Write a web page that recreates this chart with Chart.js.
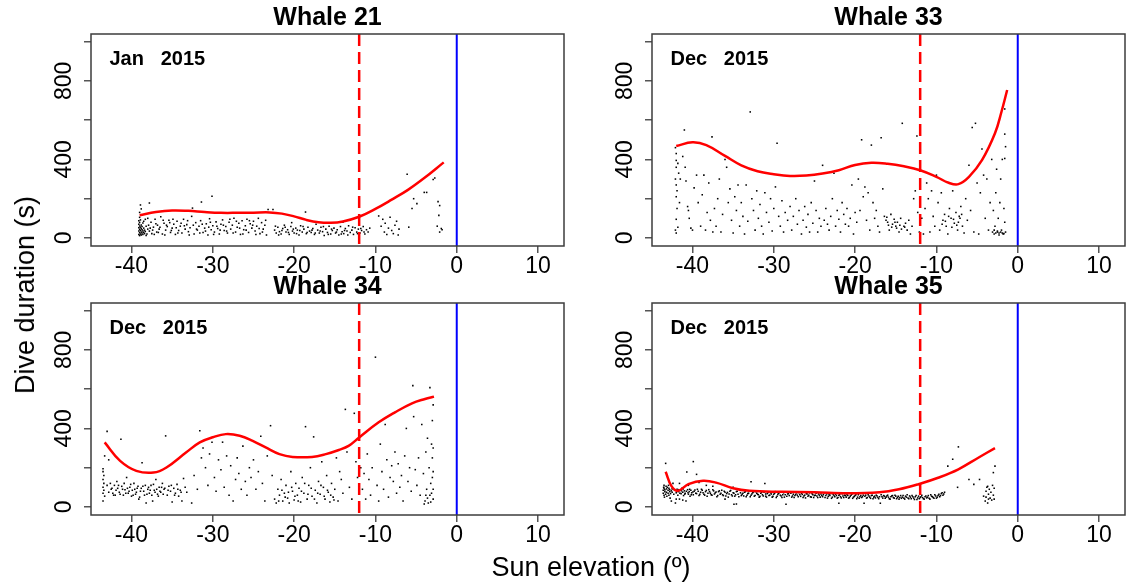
<!DOCTYPE html>
<html>
<head>
<meta charset="utf-8">
<title>Dive duration by sun elevation</title>
<script src="https://cdn.jsdelivr.net/npm/chart.js@4.4.0/dist/chart.umd.min.js"></script>
<style>
  body { margin: 0; background: #fff; overflow: hidden; }
  #wrap { position: relative; width: 1128px; height: 586px; font-family: 'Liberation Sans', Arial, sans-serif; }
  #wrap canvas { position: absolute; }
  .axis-title { position: absolute; font-size: 27px; line-height: 30px; color: #000; white-space: nowrap; }
  #xTitle { left: 591px; top: 552px; transform: translateX(-50%); }
  #yTitle { left: 25px; top: 295px; transform: translate(-50%, -50%) rotate(-90deg); }
</style>
</head>
<body>
<div id="wrap">
  <canvas id="w21" width="568" height="290" style="left:0;top:0"></canvas>
  <canvas id="w33" width="568" height="290" style="left:561px;top:0"></canvas>
  <canvas id="w34" width="568" height="290" style="left:0;top:269px"></canvas>
  <canvas id="w35" width="568" height="290" style="left:561px;top:269px"></canvas>
  <div class="axis-title" id="xTitle">Sun elevation (º)</div>
  <div class="axis-title" id="yTitle">Dive duration (s)</div>
</div>
<script>
// dives: [sun elevation (deg), dive duration (s)]
const whale21 = [
  [-39.1,18],[-39.1,35],[-39.1,52],[-39.1,70],[-39.1,88],[-39.0,12],[-39.0,27],[-39.0,44],[-39.0,61],[-39.0,79],
  [-39.0,105],[-38.9,20],[-38.9,38],[-38.9,55],[-38.9,92],[-38.8,15],[-38.8,30],[-38.8,48],[-38.8,66],[-38.7,25],
  [-38.7,42],[-38.7,58],[-38.6,18],[-38.6,35],[-38.6,76],[-38.5,28],[-38.5,50],[-38.4,22],[-38.4,40],[-38.3,33],
  [-38.2,60],[-38.1,20],[-38.0,45],[-38.9,168],[-38.8,148],[-37.8,178],[-39.0,130],
  [-37.8,35],[-37.6,80],[-37.5,22],[-37.3,55],[-37.1,95],[-36.9,30],[-36.8,65],[-36.6,45],[-36.4,108],[-36.2,20],
  [-36.0,75],[-35.8,40],[-35.6,58],[-35.4,90],[-35.2,28],[-35.0,50],[-34.8,70],[-34.6,18],[-34.4,85],[-34.2,38],
  [-34.0,60],[-33.8,25],[-33.6,95],[-33.4,45],[-33.2,68],[-33.0,32],[-32.8,52],[-32.6,110],[-32.5,152],[-32.3,20],
  [-32.1,78],[-31.9,40],[-31.7,60],[-31.5,88],[-31.4,183],[-31.2,28],[-31.0,50],[-30.8,72],[-30.6,15],[-30.4,98],
  [-30.2,42],[-30.1,212],[-30.0,62],[-29.8,30],[-29.6,82],[-29.4,48],[-29.2,20],[-29.0,70],[-28.8,92],[-28.6,38],
  [-28.4,58],[-28.2,25],[-28.0,80],[-27.8,45],[-27.6,65],[-27.4,100],[-27.2,30],[-27.0,55],[-26.8,75],[-26.6,18],
  [-26.4,88],[-26.2,42],[-26.0,62],[-25.8,95],[-25.6,28],[-25.4,72],[-25.2,50],[-25.0,85],[-24.8,35],[-24.6,60],
  [-24.4,100],[-24.2,22],[-24.0,78],[-23.8,45],[-23.6,65],[-23.4,15],[-23.2,145],[-22.6,145],
  [-38.5,85],[-38.3,95],[-38.2,12],[-38.0,100],[-37.9,65],[-37.7,50],[-37.4,40],[-37.2,18],[-37.0,72],[-36.7,28],
  [-36.5,55],[-36.1,90],[-35.9,15],[-35.7,65],[-35.3,78],[-35.1,38],[-34.9,95],[-34.5,52],[-34.3,25],[-33.9,75],
  [-33.5,62],[-33.1,88],[-32.9,15],[-32.4,65],[-32.0,45],[-31.6,25],[-31.3,70],[-30.9,35],[-30.5,55],[-30.3,80],
  [-29.9,18],[-29.5,60],[-29.1,40],[-28.7,65],[-28.3,35],[-27.9,95],[-27.5,25],[-27.1,85],[-26.7,50],[-26.3,20],
  [-25.9,40],[-25.5,88],[-25.1,65],[-24.7,18],[-24.3,48],[-23.9,30],[-23.5,90],
  [-22.4,40],[-22.2,25],[-22.0,55],[-21.8,32],[-21.6,20],[-21.4,48],[-21.2,65],[-21.0,30],[-20.8,42],[-20.6,18],
  [-20.4,58],[-20.2,35],[-20.0,25],[-19.8,50],[-19.6,40],[-19.4,15],[-19.2,62],[-19.0,30],[-18.8,45],[-18.6,132],
  [-18.5,22],[-18.3,55],[-18.1,35],[-17.9,28],[-17.7,48],[-17.5,18],[-17.3,70],[-17.1,40],[-16.9,25],[-16.7,55],
  [-16.5,32],[-16.3,12],[-16.1,45],[-15.9,28],[-15.7,60],[-15.5,20],[-15.3,38],[-15.1,50],[-14.9,25],[-14.7,42],
  [-14.5,15],[-14.3,58],[-14.1,32],[-13.9,22],[-13.7,48],[-13.5,35],[-13.3,62],[-13.1,28],[-12.9,40],[-12.7,18],
  [-12.5,52],[-12.3,30],[-12.1,45],[-11.9,25],[-11.7,38],[-11.5,58],[-11.3,20],[-11.1,42],[-10.9,30],[-10.7,50],
  [-14.0,80],[-16.0,75],[-20.3,78],
  [-22.3,60],[-21.9,15],[-21.5,38],[-21.1,55],[-20.7,28],[-20.1,45],[-19.7,22],[-19.3,38],[-18.9,58],[-18.4,28],
  [-17.8,40],[-17.4,25],[-16.8,35],[-16.4,58],[-15.8,18],[-15.4,45],[-14.8,30],[-14.2,20],[-13.8,38],[-13.4,15],
  [-12.8,55],[-12.2,22],[-11.8,48],[-11.4,30],
  [-9.6,112],[-9.3,60],[-9.1,95],[-8.9,30],[-8.8,75],[-8.6,18],[-8.4,50],[-8.2,105],[-8.0,38],[-7.8,22],
  [-7.6,65],[-7.4,85],[-7.2,15],[-7.1,45],
  [-6.1,325],[-5.9,55],[-5.5,150],[-5.3,200],[-4.9,175],[-4.0,232],[-3.7,232],[-2.9,298],[-2.7,305],[-2.3,185],
  [-2.1,165],[-2.2,115],[-2.4,60],[-2.1,30],[-1.9,48],[-1.8,42]
];

const whale33 = [
  [-42.1,460],[-42.0,430],[-42.0,395],[-42.0,360],[-42.1,300],[-42.0,270],[-41.9,240],[-42.0,210],[-41.9,150],[-42.0,95],
  [-42.1,40],[-42.0,25],[-41.8,380],[-41.7,330],[-41.6,180],[-41.8,55],[-41.5,300],
  [-41.0,550],[-41.2,415],[-40.9,360],[-40.8,290],[-40.6,160],[-40.5,140],[-40.4,100],[-40.2,50],[-40.0,40],
  [-39.8,255],[-39.5,320],[-39.3,180],[-39.0,60],[-38.8,220],[-38.6,320],[-38.4,40],[-38.2,130],[-38.0,280],[-37.8,90],
  [-37.6,515],[-37.5,30],[-37.3,150],[-37.1,60],[-36.9,200],[-36.7,300],[-36.5,30],[-36.3,120],[-36.0,400],[-35.8,360],
  [-35.6,180],[-35.4,250],[-35.2,90],[-35.0,25],[-34.8,210],[-34.6,140],[-34.4,270],[-34.2,60],[-34.0,180],[-33.8,110],
  [-33.6,20],[-33.4,270],[-33.2,85],[-32.9,642],[-32.7,200],[-32.5,140],[-32.3,40],[-32.1,240],[-31.9,100],[-31.7,170],
  [-31.5,60],[-31.3,20],[-31.1,230],[-30.9,130],[-30.6,80],[-30.4,200],[-30.2,35],[-30.0,150],[-29.8,260],[-29.6,482],
  [-29.4,110],[-29.2,60],[-29.0,190],[-28.8,30],[-28.6,130],[-28.3,90],[-28.0,160],[-27.8,40],[-27.6,110],[-27.3,200],
  [-27.1,70],[-26.9,140],[-26.6,20],[-26.4,90],[-26.2,160],[-26.0,55],[-25.8,120],[-25.6,30],[-25.4,180],[-25.2,75],
  [-25.0,290],[-24.8,140],[-24.6,30],[-24.4,100],[-24.2,60],[-24.0,370],[-23.8,90],[-23.6,150],[-23.4,70],[-23.2,40],
  [-23.0,110],[-22.8,200],[-22.6,330],[-22.4,60],[-22.2,140],[-22.0,95],[-21.8,30],[-21.6,180],[-21.4,120],[-21.2,70],
  [-21.0,150],[-20.8,60],[-20.6,100],[-20.4,270],[-20.2,20],[-20.0,130],[-19.8,80],[-19.6,300],[-19.4,140],[-19.2,500],
  [-19.0,210],[-18.8,260],[-18.6,90],[-18.4,230],[-18.2,40],[-18.0,473],[-17.8,180],[-17.6,100],[-17.4,140],[-17.2,60],
  [-17.0,30],[-16.8,510],[-16.6,250],[-16.4,110],[-16.2,90],[-16.0,80],[-15.8,40],[-15.6,120],[-15.4,70],[-15.2,95],
  [-15.0,60],[-14.8,80],[-14.6,30],[-14.4,100],[-14.2,584],[-14.0,60],[-13.8,75],[-13.6,40],[-13.4,90],[-13.2,20],
  [-13.0,60],[-12.8,200],[-12.6,240],[-12.4,519],[-12.3,130],[-12.1,30],
  [-16.1,105],[-15.9,65],[-15.5,55],[-15.1,80],[-14.9,50],[-14.5,65],[-14.3,45],[-13.9,55],
  [-11.8,100],[-11.6,20],[-11.4,150],[-11.2,280],[-11.0,200],[-10.8,30],[-10.6,240],[-10.4,110],[-10.2,60],[-10.0,320],
  [-9.8,180],[-9.6,40],[-9.4,230],[-9.2,90],[-9.0,120],[-8.8,60],[-8.6,20],[-8.4,150],[-8.2,100],[-8.0,240],
  [-7.8,75],[-7.6,130],[-7.4,40],[-7.2,110],[-7.0,160],[-6.8,60],[-6.6,25],[-6.4,200],[-6.2,90],[-6.0,370],
  [-9.3,70],[-8.9,85],[-8.5,110],[-8.1,55],[-7.9,95],[-7.5,65],[-7.3,80],[-7.1,100],[-6.9,120],
  [-5.8,140],[-5.6,563],[-5.4,30],[-5.2,584],[-5.0,280],[-4.8,20],[-4.6,230],[-4.4,453],[-4.2,320],[-4.0,100],
  [-3.8,300],[-3.6,40],[-3.4,180],[-3.2,400],[-3.0,140],[-2.9,20],[-2.8,60],[-2.7,230],[-2.6,350],[-2.5,30],
  [-2.4,100],[-2.3,25],[-2.2,180],[-2.1,300],[-2.0,40],[-1.9,400],[-1.8,20],[-1.7,150],[-1.6,657],[-1.6,529],
  [-1.5,465],[-1.6,405],[-1.5,30],[-1.6,80],[-1.7,22],
  [-3.1,30],[-2.9,40],[-2.7,25],[-2.5,35],[-2.3,15],[-2.1,30],[-1.9,25]
];

const whale34 = [
  [-43.5,195],[-43.5,180],[-43.4,160],[-43.5,140],[-43.4,120],[-43.5,100],[-43.4,85],[-43.5,70],[-43.3,55],[-43.5,30],
  [-43.3,260],[-43.0,385],[-42.8,240],[-42.6,120],[-42.5,90],[-42.3,70],[-42.1,110],[-42.0,60],[-41.8,130],[-41.7,95],
  [-41.5,75],[-41.3,345],[-41.2,105],[-41.0,60],[-40.8,88],[-40.6,150],[-40.4,70],[-40.2,100],[-40.0,55],[-39.9,85],
  [-39.7,120],[-39.5,65],[-39.3,95],[-39.1,40],[-38.9,80],[-38.7,225],[-38.6,105],[-38.4,60],[-38.2,20],[-38.0,90],
  [-37.8,70],[-37.6,110],[-37.4,30],[-37.2,85],[-37.0,140],[-36.8,65],[-36.6,100],[-36.4,75],[-36.2,120],[-36.0,90],
  [-35.8,362],[-35.6,60],[-35.4,105],[-35.2,80],[-35.0,25],[-34.8,95],[-34.6,70],[-34.4,115],[-34.2,55],[-34.0,85],
  [-33.8,30],[-33.6,145],[-33.4,100],[-33.2,75],
  [-43.0,110],[-42.8,75],[-42.4,95],[-42.2,60],[-41.9,85],[-41.6,110],[-41.4,65],[-41.1,90],[-40.9,120],[-40.7,70],
  [-40.5,95],[-40.3,80],[-40.1,115],[-39.8,60],[-39.6,90],[-39.4,75],[-39.2,105],[-39.0,50],[-38.8,95],[-38.5,80],
  [-38.3,110],[-38.1,65],[-37.9,100],[-37.7,85],[-37.5,60],[-37.3,115],[-37.1,75],[-36.9,90],[-36.7,55],[-36.5,80],
  [-36.3,100],[-36.1,65],[-35.9,95],[-35.5,85],[-35.1,110],[-34.7,60],[-34.3,90],[-33.9,75],
  [-32.6,20],[-32.3,160],[-31.9,90],[-31.6,388],[-31.4,250],[-31.2,300],[-30.9,200],[-30.6,110],[-30.4,270],[-30.1,330],
  [-29.8,150],[-29.6,80],[-29.3,240],[-29.0,190],[-28.8,330],[-28.6,100],[-28.3,260],[-28.0,60],[-27.8,210],[-27.5,30],
  [-27.2,140],[-27.0,250],[-26.8,170],[-26.5,90],[-26.3,310],[-26.0,130],[-25.8,60],[-25.5,200],[-25.3,150],[-25.0,240],
  [-24.7,90],[-24.4,180],[-24.1,360],[-23.9,120],[-23.6,30],[-23.3,260],[-22.9,414],[-22.7,160],
  [-22.4,40],[-22.2,20],[-22.0,90],[-21.8,60],[-21.6,140],[-21.4,30],[-21.2,70],[-21.0,110],[-20.8,45],[-20.6,20],
  [-20.4,180],[-20.2,80],[-20.0,35],[-19.8,120],[-19.6,60],[-19.4,95],[-19.2,25],[-19.0,150],[-18.8,70],[-18.6,409],
  [-18.4,40],[-18.2,110],[-18.0,200],[-17.8,55],[-17.6,357],[-17.4,85],[-17.2,20],[-17.0,130],[-16.8,65],[-16.6,230],
  [-16.4,100],[-16.2,40],[-16.0,160],[-15.8,75],[-15.6,25],[-15.4,120],[-15.2,50],[-15.0,90],[-14.8,250],[-14.6,30],
  [-14.4,180],[-14.2,140],[-14.0,70],[-13.7,497],[-13.5,280],[-13.2,100],[-12.9,40],[-12.6,477],[-12.4,230],[-12.2,150],
  [-21.9,30],[-21.5,85],[-21.1,50],[-20.7,75],[-20.3,100],[-19.9,55],[-19.5,30],[-19.1,80],[-18.7,120],[-18.3,65],
  [-17.9,95],[-17.5,40],[-17.1,70],[-16.7,110],[-16.3,55],[-15.9,85],[-15.5,60],[-15.1,35],
  [-11.8,200],[-11.6,90],[-11.4,170],[-11.2,40],[-11.0,270],[-10.8,140],[-10.6,60],[-10.4,200],[-10.0,763],[-9.8,110],
  [-9.6,30],[-9.4,320],[-9.2,180],[-9.0,90],[-8.8,420],[-8.6,240],[-8.4,50],[-8.2,150],[-8.0,210],[-7.8,130],
  [-7.6,280],[-7.4,70],[-7.2,220],[-7.0,100],[-6.8,160],[-6.6,30],[-6.4,260],[-6.2,400],[-6.0,130],[-5.8,200],
  [-5.6,80],[-5.4,618],[-5.3,460],[-5.1,190],[-4.9,110],[-4.7,250],[-4.5,60],[-4.3,420],[-4.1,170],[-3.9,30],
  [-3.8,280],[-3.7,90],[-3.6,350],[-3.5,20],[-3.4,200],[-3.3,608],[-3.3,60],[-3.2,120],[-3.1,320],[-3.0,440],
  [-3.0,250],[-2.9,40],[-2.9,180],[-2.9,520],[-2.9,90],[-2.9,300],[-3.0,150],[-3.1,70],[-3.2,25],[-3.6,45],
  [-4.0,15],[-3.8,60]
];

const whale35 = [
  [-43.6,85],[-43.6,70],[-43.5,95],[-43.5,60],[-43.5,110],[-43.4,78],[-43.4,88],[-43.3,222],[-43.3,65],[-43.2,92],
  [-43.2,75],[-43.1,100],[-43.0,70],[-43.0,85],[-42.9,60],[-42.9,95],[-42.8,78],[-42.8,88],[-42.7,68],[-42.6,82],
  [-42.6,30],[-42.5,75],[-42.5,92],
  [-43.55,100],[-43.45,50],[-43.25,105],[-43.15,55],[-42.95,110],[-42.75,45],[-42.4,120],[-42.0,40],[-41.6,120],[-41.2,35],
  [-40.5,110],[-39.2,125],[-38.3,110],[-37.5,105],[-36.0,40],[-35.0,100],
  [-42.3,65],[-42.2,85],[-42.1,20],[-42.0,72],[-41.9,90],[-41.8,60],[-41.7,78],[-41.6,40],[-41.5,85],[-41.4,68],
  [-41.3,95],[-41.2,75],[-41.1,58],[-41.0,82],[-40.9,70],[-40.8,30],[-40.7,178],[-40.6,88],[-40.5,65],[-40.4,78],
  [-40.3,55],[-40.2,85],[-40.1,72],[-39.9,231],[-39.9,62],[-39.8,80],[-39.6,70],[-39.5,166],[-39.4,90],[-39.2,58],
  [-39.0,75],[-38.8,85],[-38.6,65],[-38.4,78],[-38.2,55],[-38.0,88],[-37.8,70],[-37.6,60],[-37.4,82],[-37.2,72],
  [-37.0,52],[-36.8,78],[-36.6,65],[-36.4,85],[-36.2,58],[-36.0,75],[-35.8,68],[-35.6,50],[-35.4,80],[-35.2,62],
  [-35.0,72],[-34.9,14],[-34.6,15],[-34.8,55],[-34.6,78],[-34.4,65],[-34.2,85],[-34.0,58],[-33.8,70],[-33.6,75],
  [-33.4,52],[-33.2,68],[-33.0,80],[-32.8,128],[-32.8,60],[-32.6,72],[-32.4,55],[-32.2,78],[-32.0,65],[-31.8,50],
  [-31.6,70],[-31.4,62],[-31.1,119],[-31.2,75],[-31.0,55],[-30.8,68],[-30.6,58],[-30.4,72],[-30.2,50],[-30.0,65],
  [-29.8,78],[-29.6,55],[-29.4,70],[-29.2,60],[-29.0,48],[-28.8,72],[-28.6,62],[-28.5,14],[-28.4,55],[-28.2,68],
  [-28.0,75],[-27.8,50],[-27.6,65],[-27.4,58],[-27.2,72],[-27.0,52],[-26.8,62],[-26.6,70],[-26.4,48],[-26.2,60],
  [-26.0,68],[-25.8,55],[-25.6,72],[-25.4,50],[-25.2,62],[-25.0,58],[-24.8,70],[-24.6,48],[-24.4,60],[-24.2,66],
  [-24.0,52],[-23.8,72],[-23.6,58],[-23.4,45],[-23.2,62],[-23.0,68],[-22.8,50],[-22.6,58],[-22.4,65],[-22.2,45],
  [-22.0,19],[-22.0,60],[-21.8,52],[-21.6,68],[-21.4,48],[-21.2,58],[-21.0,62],[-20.8,45],[-20.6,55],[-20.4,65],
  [-20.2,50],[-20.0,58],[-19.8,42],[-19.6,62],[-19.4,52],[-19.2,48],[-19.0,60],[-18.9,19],[-18.8,55],[-18.6,45],
  [-18.4,62],[-18.2,50],[-18.0,58],[-17.8,42],[-17.6,55],[-17.4,60],[-17.2,48],[-17.0,52],[-16.9,19],[-16.8,62],
  [-16.6,45],[-16.4,55],[-16.2,50],[-16.0,60],[-15.8,42],[-15.6,52],[-15.4,58],[-15.2,45],[-15.0,55],[-14.8,48],
  [-14.6,40],[-14.4,58],[-14.2,50],[-14.0,45],[-13.8,55],[-13.6,62],[-13.4,42],[-13.2,50],[-13.0,58],[-12.8,45],
  [-12.6,52],[-12.4,38],[-12.2,55],[-12.0,48],[-11.8,60],[-11.6,42],[-11.4,52],[-11.2,46],[-11.0,58],[-10.8,40],
  [-10.6,55],[-10.4,48],[-10.2,62],[-10.0,45],[-9.8,58],[-9.6,52],[-9.4,68],[-9.2,60],[-9.0,75],
  [-41.95,78],[-41.75,88],[-41.55,70],[-41.35,82],[-41.15,92],[-40.95,65],[-40.75,80],[-40.55,72],[-40.35,90],[-40.15,62],
  [-39.95,76],[-39.7,86],[-39.5,68],[-39.3,80],[-39.1,64],[-38.9,90],[-38.7,72],[-38.5,60],[-38.3,84],[-38.1,70],
  [-37.9,78],[-37.7,62],[-37.5,88],[-37.3,66],[-37.1,76],[-36.9,58],[-36.7,82],[-36.5,70],[-36.3,62],[-36.1,80],
  [-35.9,56],[-35.7,74],[-35.5,66],[-35.3,84],[-35.1,56],[-34.9,70],[-34.7,62],[-34.5,80],[-34.3,52],[-34.1,72],
  [-33.9,64],[-33.7,56],[-33.5,78],[-33.3,60],[-33.1,70],[-32.9,52],[-32.7,66],[-32.5,76],[-32.3,58],[-32.1,70],
  [-31.9,62],[-31.7,54],[-31.5,74],[-31.3,56],[-31.0,66],[-30.9,50],[-30.7,74],[-30.5,60],[-30.3,66],[-30.1,54],
  [-29.9,70],[-29.7,48],[-29.5,64],[-29.3,74],[-29.1,56],[-28.9,62],[-28.7,50],[-28.3,66],[-28.1,58],[-27.9,70],
  [-27.7,56],[-27.5,48],[-27.3,64],[-27.1,60],[-26.9,72],[-26.7,54],[-26.5,64],[-26.3,56],[-26.1,46],[-25.9,66],
  [-25.7,60],[-25.5,52],[-25.3,68],[-25.1,48],[-24.9,60],[-24.7,56],[-24.5,66],[-24.3,50],[-24.1,58],[-23.9,62],
  [-23.7,48],[-23.5,66],[-23.3,54],[-23.1,58],[-22.9,44],[-22.7,64],[-22.5,52],[-22.3,58],[-22.1,48],[-21.9,62],
  [-21.7,46],[-21.5,56],[-21.3,60],[-21.1,50],[-20.9,58],[-20.7,48],[-20.5,60],[-20.3,44],[-20.1,54],[-19.9,62],
  [-19.7,50],[-19.5,44],[-19.3,58],[-19.1,52],[-18.7,60],[-18.5,48],[-18.3,56],[-18.1,44],[-17.9,60],[-17.7,50],
  [-17.5,46],[-17.3,56],[-17.1,42],[-16.7,52],[-16.5,58],[-16.3,44],[-16.1,56],[-15.9,50],[-15.7,40],[-15.5,56],
  [-15.3,48],[-15.1,60],[-14.9,42],[-14.7,54],[-14.5,48],[-14.3,44],[-14.1,58],[-13.9,40],[-13.7,50],[-13.5,46],
  [-13.3,56],[-13.1,42],[-12.9,52],[-12.7,38],[-12.5,58],[-12.3,46],[-12.1,42],[-11.9,52],[-11.7,48],[-11.5,40],
  [-11.3,56],[-11.1,50],[-10.9,44],[-10.7,62],[-10.5,52],[-10.3,44],[-10.1,56],[-9.9,50],[-9.7,64],[-9.5,58],
  [-9.3,72],[-9.1,66],
  [-8.6,208],[-8.0,243],[-7.3,306],[-7.4,100],[-6.0,140],[-5.4,115],[-4.7,140],[-4.2,55],[-4.0,30],[-3.9,80],
  [-3.8,100],[-3.7,20],[-3.6,65],[-3.5,90],[-3.4,45],[-3.3,75],[-3.2,35],[-3.1,110],[-3.0,175],[-3.0,60],
  [-2.9,95],[-2.8,208],[-2.9,40],[-3.6,40],[-3.9,50],[-3.7,105]
];

// loess fits: elevation and fitted duration
const fit21Elev = [-39, -37, -35, -33, -31, -29, -27, -25, -23, -21.5, -20, -18.5, -17, -15.5, -14, -12, -10, -8, -6, -4, -1.6];
const fit21Dur  = [116, 132, 140, 138, 132, 128, 128, 129, 130, 124, 110, 92, 80, 77, 84, 108, 148, 195, 245, 305, 385];
const fit33Elev = [-42, -40, -38.3, -36, -34, -32, -30, -28, -26, -24, -22, -20, -18, -16, -14, -12, -10, -8.5, -7.3, -6, -4.4, -2.8, -2, -1.3];
const fit33Dur  = [468, 487, 473, 418, 370, 340, 325, 316, 318, 328, 345, 372, 383, 378, 365, 345, 311, 281, 274, 311, 396, 533, 643, 754];
const fit34Elev = [-43.3, -41.4, -39.4, -37.3, -35.7, -33.3, -31.6, -30, -28.4, -26.7, -25.1, -23.5, -21.8, -20.2, -17.8, -16.1, -14.5, -13.3, -12, -9.6, -7.6, -5.5, -3.9, -2.8];
const fit34Dur  = [329, 235, 184, 175, 201, 277, 329, 355, 371, 363, 337, 303, 269, 255, 255, 269, 290, 311, 354, 431, 482, 528, 550, 562];
const fit35Elev = [-43.3, -42.6, -41.8, -40.5, -38.7, -37.1, -35, -33, -29, -25, -21, -17, -14.6, -12.2, -9.7, -7.3, -4.8, -2.8];
const fit35Dur  = [179, 107, 82, 116, 133, 124, 95, 82, 77, 75, 70, 75, 90, 116, 150, 192, 252, 300];

const elevTicks = [-40, -30, -20, -10, 0, 10];
const durTicks = [0, 200, 400, 600, 800, 1000];
const durLabels = [0, 400, 800];
const civilTwilight = -12;  // dashed red
const sunrise = 0;          // solid blue

Chart.defaults.font.family = "'Liberation Sans', Arial, sans-serif";
Chart.defaults.color = '#000';

// frame, reference lines and month label
const panelDecor = {
  id: 'panelDecor',
  afterDatasetsDraw(chart, args, opts) {
    const { ctx, chartArea: a, scales: { x } } = chart;
    ctx.save();
    let px = x.getPixelForValue(civilTwilight);
    ctx.strokeStyle = '#ff0000';
    ctx.lineWidth = 2.5;
    ctx.setLineDash([12, 6]);
    ctx.beginPath();
    ctx.moveTo(px, a.top);
    ctx.lineTo(px, a.bottom);
    ctx.stroke();

    px = x.getPixelForValue(sunrise);
    ctx.strokeStyle = '#0000ff';
    ctx.lineWidth = 2;
    ctx.setLineDash([]);
    ctx.beginPath();
    ctx.moveTo(px, a.top);
    ctx.lineTo(px, a.bottom);
    ctx.stroke();

    ctx.strokeStyle = '#3c3c3c';
    ctx.lineWidth = 1.5;
    ctx.strokeRect(a.left, a.top, a.right - a.left, a.bottom - a.top);

    ctx.fillStyle = '#000';
    ctx.font = "bold 20px 'Liberation Sans', Arial, sans-serif";
    ctx.textBaseline = 'middle';
    ctx.fillText(opts.label, a.left + 18.5, a.top + 25);
    ctx.restore();
  }
};

function axisGrid() {
  return { drawOnChartArea: false, drawTicks: true, tickLength: 7, color: '#555', lineWidth: 1.5 };
}

function drawPanel(canvasId, title, label, dives, fitElev, fitDur) {
  new Chart(document.getElementById(canvasId), {
    type: 'scatter',
    data: {
      datasets: [
        {
          data: fitElev.map((e, i) => ({ x: e, y: fitDur[i] })),
          showLine: true,
          borderColor: '#ff0000',
          borderWidth: 2.5,
          pointRadius: 0,
          tension: 0.4,
          order: 0
        },
        {
          data: dives.map(d => ({ x: d[0], y: d[1] })),
          pointStyle: 'rect',
          pointRadius: 1.1,
          backgroundColor: '#000',
          borderWidth: 0,
          order: 1
        }
      ]
    },
    options: {
      responsive: false,
      animation: false,
      events: [],
      layout: { padding: { left: 0, right: 2, top: 0, bottom: 0 } },
      plugins: {
        legend: { display: false },
        tooltip: { enabled: false },
        title: {
          display: true,
          text: title,
          fullSize: false,
          color: '#000',
          font: { size: 25, weight: 'bold' },
          padding: { top: 3, bottom: 1 }
        },
        panelDecor: { label: label }
      },
      scales: {
        x: {
          type: 'linear',
          min: -44.98,
          max: 13.19,
          afterBuildTicks: s => { s.ticks = elevTicks.map(v => ({ value: v })); },
          afterFit: s => { s.height = 44; },
          grid: axisGrid(),
          border: { display: false },
          ticks: { color: '#000', font: { size: 23 }, padding: 0, maxRotation: 0, autoSkip: false }
        },
        y: {
          type: 'linear',
          min: -41,
          max: 1039,
          afterBuildTicks: s => { s.ticks = durTicks.map(v => ({ value: v })); },
          afterFit: s => { s.width = 91; },
          grid: axisGrid(),
          border: { display: false },
          ticks: {
            color: '#000',
            font: { size: 23 },
            minRotation: 90,
            maxRotation: 90,
            crossAlign: 'center',
            padding: 0,
            autoSkip: false,
            callback: v => (durLabels.includes(v) ? String(v) : '')
          }
        }
      }
    },
    plugins: [panelDecor]
  });
}

drawPanel('w21', 'Whale 21', 'Jan   2015', whale21, fit21Elev, fit21Dur);
drawPanel('w33', 'Whale 33', 'Dec   2015', whale33, fit33Elev, fit33Dur);
drawPanel('w34', 'Whale 34', 'Dec   2015', whale34, fit34Elev, fit34Dur);
drawPanel('w35', 'Whale 35', 'Dec   2015', whale35, fit35Elev, fit35Dur);
</script>
</body>
</html>
